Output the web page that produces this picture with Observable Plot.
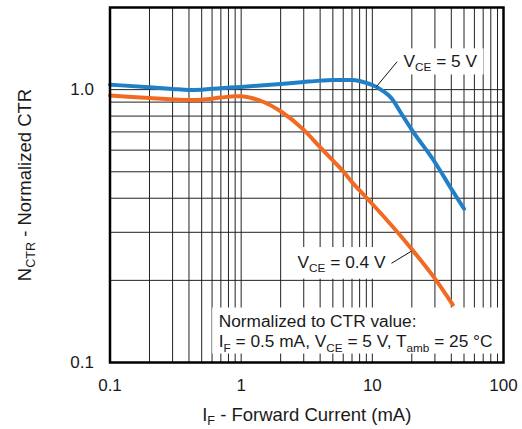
<!DOCTYPE html>
<html><head><meta charset="utf-8">
<script src="https://cdn.jsdelivr.net/npm/d3@7"></script>
<script src="https://cdn.jsdelivr.net/npm/@observablehq/plot@0.6"></script>
<style>
html,body{margin:0;padding:0;background:#fff;}
#chart svg{display:block;}
</style>
</head><body><div id="chart"></div>
<script>
// V_CE = 5 V curve
const ifBlue  = [0.1, 0.2, 0.3, 0.4, 0.5, 0.7, 1, 2, 3, 4, 5, 7, 8, 9, 10, 12, 14, 16.4, 20, 30, 40, 50];
const ctrBlue = [1.043, 1.02, 1.006, 0.997, 1.0, 1.012, 1.023, 1.049, 1.067, 1.079, 1.085, 1.085, 1.075, 1.058, 1.04, 0.99, 0.93, 0.826, 0.712, 0.542, 0.433, 0.366];
// V_CE = 0.4 V curve
const ifOrange  = [0.1, 0.2, 0.3, 0.4, 0.5, 0.7, 0.9, 1, 1.2, 1.5, 2, 3, 4, 5, 6, 7, 8, 10, 20, 30, 41];
const ctrOrange = [0.951, 0.932, 0.921, 0.917, 0.919, 0.935, 0.945, 0.945, 0.932, 0.899, 0.833, 0.712, 0.615, 0.55, 0.502, 0.458, 0.427, 0.381, 0.26, 0.203, 0.163];

const xTicks = [0.1, 1, 10, 100];
const yTicks = [0.1, 1];
const xGrid = [0.2,0.3,0.4,0.5,0.6,0.7,0.8,0.9,1,2,3,4,5,6,7,8,9,10,20,30,40,50,60,70,80,90];
const yGrid = [0.2,0.3,0.4,0.5,0.6,0.7,0.8,0.9,1.0];

// annotations
const label5Text = "V_{CE} = 5 V";
const label04Text = "V_{CE} = 0.4 V";
const label5Pos = {x: 17.3, y: 1.265};
const label04Pos = {x: 12.6, y: 0.2335};
const leaderX1 = [15.45, 14.0], leaderY1 = [1.266, 0.231];
const leaderX2 = [10.75, 19.9], leaderY2 = [1.026, 0.256];
const noteText = ["Normalized to CTR value:", "I_{F} = 0.5 mA, V_{CE} = 5 V, T_{amb} = 25 °C"];
const noteX = [0.674, 0.674];
const noteY = [0.1408, 0.119];
const xTitle = "I_{F} - Forward Current (mA)";
const yTitle = "N_{CTR} - Normalized CTR";

const blue = ifBlue.map((x, i) => ({x, y: ctrBlue[i]}));
const orange = ifOrange.map((x, i) => ({x, y: ctrOrange[i]}));
const leaders = leaderX1.map((x1, i) => ({x1, y1: leaderY1[i], x2: leaderX2[i], y2: leaderY2[i]}));
const notes = noteText.map((t, i) => ({t, x: noteX[i], y: noteY[i]}));

const FS_TICK = 17, FS_NOTE = 17.3, FS_TITLE = 18.5;
const INK = "#1a1a1a";
const plot = Plot.plot({
  width: 522, height: 429,
  marginLeft: 109.5, marginRight: 19, marginTop: 7, marginBottom: 67,
  style: {fontFamily: "'Liberation Sans', Arial, sans-serif", fontSize: FS_TICK + "px", color: INK, background: "#fff", overflow: "visible"},
  x: {type: "log", domain: [0.1, 100], ticks: xTicks, tickFormat: d => String(d), tickSize: 0, tickPadding: 16, label: null},
  y: {type: "log", domain: [0.1, 2], ticks: yTicks, tickFormat: d => d.toFixed(1), tickSize: 0, tickPadding: 16, label: null},
  marks: [
    Plot.ruleX(xGrid, {stroke: "#222", strokeWidth: 1}),
    Plot.ruleY(yGrid, {stroke: "#222", strokeWidth: 1}),
    Plot.line(blue, {x: "x", y: "y", stroke: "#1f80c8", strokeWidth: 4, curve: "monotone-x"}),
    Plot.line(orange, {x: "x", y: "y", stroke: "#f26a21", strokeWidth: 4, curve: "monotone-x"}),
    Plot.link(leaders, {x1: "x1", y1: "y1", x2: "x2", y2: "y2", stroke: "#111", strokeWidth: 1}),
    Plot.text([label5Text], {x: () => label5Pos.x, y: () => label5Pos.y, text: d => d, textAnchor: "start", fontSize: FS_NOTE, fill: INK}),
    Plot.text([label04Text], {x: () => label04Pos.x, y: () => label04Pos.y, text: d => d, textAnchor: "end", fontSize: FS_NOTE, fill: INK}),
    Plot.text(notes, {x: "x", y: "y", text: "t", textAnchor: "start", fontSize: FS_NOTE, fill: INK}),
    Plot.text([yTitle], {text: d => d, frameAnchor: "left", textAnchor: "middle", lineAnchor: "middle", dx: -85, rotate: -90, fontSize: FS_TITLE, fill: INK}),
    Plot.text([xTitle], {text: d => d, frameAnchor: "bottom", textAnchor: "middle", lineAnchor: "middle", dy: 52.5, fontSize: FS_TITLE, fill: INK}),
    Plot.frame({stroke: "#000", strokeWidth: 2.5})
  ]
});
document.getElementById("chart").append(plot);

const NS = "http://www.w3.org/2000/svg";
const allTexts = [...plot.querySelectorAll("text")];
const findText = s => allTexts.find(t => t.textContent === s);
const el5 = findText(label5Text), el04 = findText(label04Text);
const elNotes = noteText.map(findText);

function applySubs(el) {
  const s = el.textContent;
  if (!s.includes("_{")) return;
  const fs = parseFloat(getComputedStyle(el).fontSize) || 17;
  const sfs = fs * 0.68, sh = fs * 0.24;
  while (el.firstChild) el.removeChild(el.firstChild);
  const parts = s.split(/(_\{[^}]*\})/);
  let shifted = false;
  for (const p of parts) {
    if (!p) continue;
    const t = document.createElementNS(NS, "tspan");
    if (p.startsWith("_{")) {
      t.textContent = p.slice(2, -1);
      t.style.fontSize = sfs + "px";
      t.setAttribute("dy", sh);
      shifted = true;
    } else {
      t.textContent = p;
      if (shifted) { t.setAttribute("dy", -sh); shifted = false; }
    }
    el.appendChild(t);
  }
}
allTexts.forEach(applySubs);

const sr = plot.getBoundingClientRect();
function addBox(els, pad) {
  const rects = els.filter(Boolean).map(e => e.getBoundingClientRect());
  if (!rects.length) return;
  const x0 = Math.min(...rects.map(r => r.left)) - sr.left - pad[3];
  const x1 = Math.max(...rects.map(r => r.right)) - sr.left + pad[1];
  const y0 = Math.min(...rects.map(r => r.top)) - sr.top - pad[0];
  const y1 = Math.max(...rects.map(r => r.bottom)) - sr.top + pad[2];
  const rect = document.createElementNS(NS, "rect");
  rect.setAttribute("x", x0); rect.setAttribute("y", y0);
  rect.setAttribute("width", x1 - x0); rect.setAttribute("height", y1 - y0);
  rect.setAttribute("fill", "#fff");
  const g = els.find(Boolean).parentNode;
  g.parentNode.insertBefore(rect, g);
}
addBox([el5], [3, 6, 1, 4]);
addBox([el04], [4.5, 5, 5, 7]);
addBox(elNotes, [4, 7, 0, 6.5]);
</script>
</body></html>
